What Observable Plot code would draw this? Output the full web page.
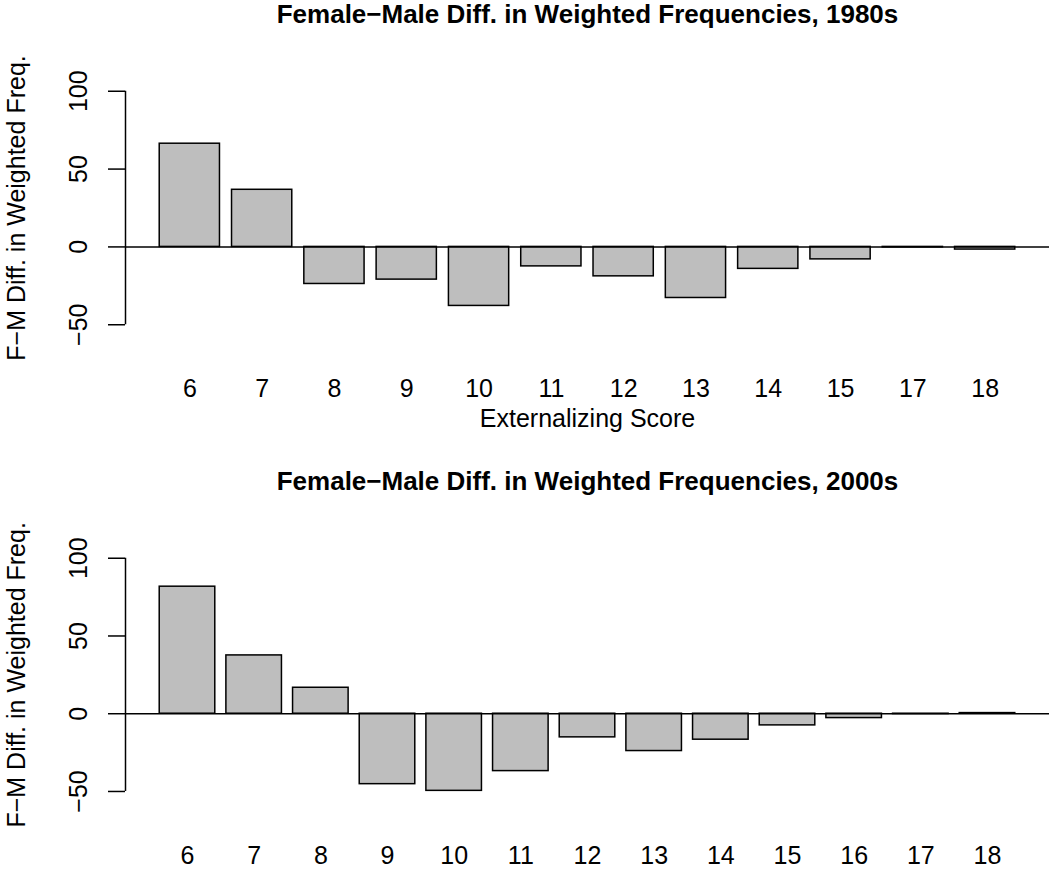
<!DOCTYPE html>
<html>
<head>
<meta charset="utf-8">
<script src="https://cdn.jsdelivr.net/npm/d3@7"></script>
<script src="https://cdn.jsdelivr.net/npm/@observablehq/plot@0.6"></script>
<style>
  body { margin: 0; background: #ffffff; }
  #chart svg { display: block; }
</style>
</head>
<body>
<div id="chart"></div>
<script>
// Female minus male weighted frequencies by externalizing score
const scores1980 = ["6", "7", "8", "9", "10", "11", "12", "13", "14", "15", "17", "18"];
const diff1980 = [66.3, 36.7, -23.8, -21.0, -37.9, -12.5, -18.9, -32.8, -14.1, -8.0, -0.3, -1.7];

const scores2000 = ["6", "7", "8", "9", "10", "11", "12", "13", "14", "15", "16", "17", "18"];
const diff2000 = [81.7, 37.5, 16.7, -45.3, -49.6, -36.9, -15.2, -24.0, -16.7, -7.5, -2.8, -0.2, 0.4];

const yTicks = [-50, 0, 50, 100];
const title1980 = "Female\u2212Male Diff. in Weighted Frequencies, 1980s";
const title2000 = "Female\u2212Male Diff. in Weighted Frequencies, 2000s";
const yLabel = "F\u2212M Diff. in Weighted Freq.";
const xLabel = "Externalizing Score";

// barplot geometry: unit-width bars separated by 0.2, limits padded by 4%
const barWidth = 1;
const barSpace = 0.2;
const fontFamily = "'Liberation Sans', Arial, Helvetica, sans-serif";
const minus = d => (d < 0 ? "\u2212" + Math.abs(d) : String(d));

function panel({scores, diffs, title, xlab, height, marginBottom}) {
  const rows = scores.map((score, i) => {
    const x1 = barSpace + i * (barWidth + barSpace);
    return {score, diff: diffs[i], x1, x2: x1 + barWidth, mid: x1 + barWidth / 2};
  });
  const lo = barSpace;
  const hi = scores.length * (barWidth + barSpace);
  const xPad = 0.04 * (hi - lo);
  const yLo = d3.min(yTicks);
  const yHi = d3.max(yTicks);
  const yPad = 0.04 * (yHi - yLo);
  const labelAt = new Map(rows.map(r => [r.mid, r.score]));

  return Plot.plot({
    width: 1062,
    height,
    marginLeft: 125,
    marginRight: 13,
    marginTop: 81.4,
    marginBottom,
    x: {domain: [lo - xPad, hi + xPad]},
    y: {domain: [yLo - yPad, yHi + yPad]},
    style: {fontFamily, fontSize: "25px", color: "black", background: "white", overflow: "visible"},
    marks: [
      Plot.rectY(rows, {x1: "x1", x2: "x2", y1: 0, y2: "diff", fill: "#bebebe", stroke: "black", strokeWidth: 1.5}),
      Plot.ruleY([0], {stroke: "black", strokeWidth: 1.5}),
      Plot.ruleX([lo - xPad], {y1: yLo, y2: yHi, stroke: "black", strokeWidth: 1.5}),
      Plot.axisY(yTicks, {
        tickSize: 17, tickPadding: 30, tickRotate: -90, lineAnchor: "middle",
        tickFormat: minus, strokeWidth: 1.5, fontSize: 25, label: null
      }),
      Plot.axisX(rows.map(r => r.mid), {
        tickSize: 0, tickPadding: 45, tickFormat: d => labelAt.get(d), fontSize: 25, label: null
      }),
      Plot.text([yLabel], {
        frameAnchor: "left", dx: -109, rotate: -90,
        textAnchor: "middle", lineAnchor: "middle", fontSize: 25
      }),
      Plot.text([title], {
        frameAnchor: "top", dy: -67.5, textAnchor: "middle", lineAnchor: "middle",
        fontWeight: "bold", fontSize: 26
      }),
      xlab ? Plot.text([xlab], {
        frameAnchor: "bottom", dy: 84.4, textAnchor: "middle", lineAnchor: "middle", fontSize: 25
      }) : null
    ]
  });
}

const chart = document.getElementById("chart");
chart.appendChild(panel({scores: scores1980, diffs: diff1980, title: title1980, xlab: xLabel, height: 467, marginBottom: 133.4}));
chart.appendChild(panel({scores: scores2000, diffs: diff2000, title: title2000, xlab: null, height: 406, marginBottom: 72.7}));
</script>
</body>
</html>
